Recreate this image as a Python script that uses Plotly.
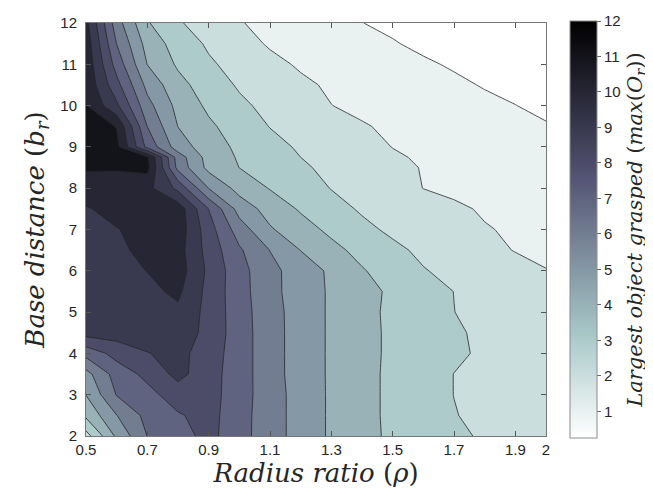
import plotly.graph_objects as go

# ---------------- data ----------------
rho = [0.5, 0.6, 0.7, 0.8, 0.9, 1.0, 1.1, 1.2, 1.3, 1.4, 1.5, 1.6, 1.7, 1.8, 1.9, 2.0]
base_dist = [2.0, 2.5, 3.0, 3.5, 4.0, 4.5, 5.0, 5.5, 6.0, 6.5, 7.0,
             7.5, 8.0, 8.5, 8.75, 9.0, 9.5, 10.0, 10.5, 11.0, 11.5, 12.0]

# largest object grasped, rows = base distance (ascending), cols = radius ratio
max_obj = [
    [2.60, 5.20, 7.02, 7.61, 8.30, 7.36, 6.45, 5.60, 4.86, 4.29, 3.83, 3.52, 3.19, 2.88, 2.65, 2.45],  # 2.0
    [4.21, 5.98, 7.31, 7.90, 8.35, 7.38, 6.45, 5.60, 4.86, 4.29, 3.80, 3.40, 3.04, 2.78, 2.58, 2.40],  # 2.5
    [5.02, 7.05, 7.68, 8.50, 8.40, 7.44, 6.45, 5.60, 4.86, 4.29, 3.80, 3.40, 2.99, 2.75, 2.55, 2.35],  # 3.0
    [5.65, 7.43, 8.27, 9.30, 8.41, 7.47, 6.40, 5.56, 4.86, 4.29, 3.80, 3.40, 2.99, 2.75, 2.55, 2.35],  # 3.5
    [7.33, 8.36, 8.96, 9.30, 8.52, 7.47, 6.40, 5.56, 4.86, 4.29, 3.83, 3.50, 3.17, 2.85, 2.60, 2.35],  # 4.0
    [9.40, 9.45, 9.50, 9.60, 8.69, 7.47, 6.40, 5.56, 4.86, 4.29, 3.83, 3.48, 3.14, 2.80, 2.55, 2.30],  # 4.5
    [9.40, 9.50, 9.60, 9.80, 8.69, 7.44, 6.38, 5.56, 4.86, 4.29, 3.80, 3.40, 3.01, 2.70, 2.45, 2.25],  # 5.0
    [9.50, 9.60, 9.75, 10.20, 8.69, 7.40, 6.30, 5.52, 4.87, 4.33, 3.83, 3.42, 2.99, 2.66, 2.43, 2.20],  # 5.5
    [9.60, 9.70, 10.02, 10.50, 8.79, 7.36, 6.29, 5.52, 4.83, 4.08, 3.55, 3.05, 2.77, 2.51, 2.26, 2.01],  # 6.0
    [9.75, 9.85, 10.20, 10.40, 8.62, 7.14, 5.98, 4.98, 4.28, 3.70, 3.20, 2.82, 2.52, 2.21, 1.97, 1.93],  # 6.5
    [9.80, 9.95, 10.40, 10.60, 8.44, 6.50, 5.11, 4.40, 3.78, 3.22, 2.83, 2.56, 2.28, 2.03, 1.94, 1.85],  # 7.0
    [9.90, 10.40, 10.50, 10.60, 7.98, 5.60, 4.59, 3.89, 3.33, 2.89, 2.62, 2.35, 2.08, 1.95, 1.85, 1.75],  # 7.5
    [10.60, 10.50, 10.30, 8.75, 5.98, 4.64, 3.95, 3.45, 2.97, 2.65, 2.32, 1.99, 1.90, 1.82, 1.74, 1.65],  # 8.0
    [11.10, 11.10, 11.30, 6.67, 4.71, 3.99, 3.57, 3.13, 2.79, 2.50, 2.21, 1.96, 1.83, 1.71, 1.58, 1.45],  # 8.5
    [11.90, 11.60, 11.15, 6.50, 4.60, 3.90, 3.44, 3.00, 2.69, 2.39, 2.10, 1.90, 1.76, 1.62, 1.49, 1.35],  # 8.75
    [11.80, 11.30, 7.71, 5.50, 4.46, 3.80, 3.30, 2.88, 2.58, 2.27, 1.985, 1.84, 1.69, 1.54, 1.40, 1.25],  # 9.0
    [11.60, 10.95, 6.98, 4.98, 4.17, 3.53, 2.97, 2.67, 2.36, 2.06, 1.87, 1.70, 1.54, 1.38, 1.21, 1.05],  # 9.5
    [11.05, 9.20, 6.33, 4.70, 3.81, 3.19, 2.74, 2.37, 2.01, 1.83, 1.67, 1.50, 1.33, 1.17, 1.01, 0.85],  # 10.0
    [10.80, 8.33, 5.70, 4.32, 3.50, 2.89, 2.52, 2.15, 1.89, 1.70, 1.51, 1.33, 1.14, 0.95, 0.82, 0.70],  # 10.5
    [10.70, 7.60, 4.98, 3.86, 3.14, 2.65, 2.22, 1.90, 1.70, 1.50, 1.30, 1.10, 0.92, 0.80, 0.68, 0.56],  # 11.0
    [10.60, 6.98, 4.62, 3.56, 2.86, 2.32, 1.91, 1.70, 1.48, 1.27, 1.05, 0.85, 0.72, 0.60, 0.50, 0.40],  # 11.5
    [10.30, 6.44, 4.09, 3.10, 2.55, 2.05, 1.77, 1.51, 1.26, 1.01, 0.85, 0.72, 0.60, 0.48, 0.37, 0.25],  # 12.0
]

x_tickvals = [0.5, 0.7, 0.9, 1.1, 1.3, 1.5, 1.7, 1.9, 2.0]
x_ticktext = ["0.5", "0.7", "0.9", "1.1", "1.3", "1.5", "1.7", "1.9", "2"]
y_tickvals = [2, 3, 4, 5, 6, 7, 8, 9, 10, 11, 12]
cbar_tickvals = [1, 2, 3, 4, 5, 6, 7, 8, 9, 10, 11, 12]
contour_levels = [1, 2, 3, 4, 5, 6, 7, 8, 9, 10, 11]
c_min, c_max = 0.25, 12.0

# ---------------- colours (reversed MATLAB "bone") ----------------
def bone(s):
    r = (7 * s + min(max(4 * s - 3, 0), 1)) / 8
    g = (7 * s + min(max(8 * s / 3 - 1, 0), 1)) / 8
    b = (7 * s + min(8 * s / 3, 1)) / 8
    return "rgb(%d,%d,%d)" % (round(r * 255), round(g * 255), round(b * 255))

def bone_r_at(v):
    t = (v - c_min) / (c_max - c_min)
    return bone(1 - min(max(t, 0), 1))

n_steps = 48
cont_scale = [[i / n_steps, bone(1 - i / n_steps)] for i in range(n_steps + 1)]

band_values = [c_min] + contour_levels
n_b = len(band_values) - 1
band_scale = [[k / n_b, bone_r_at(v)] for k, v in enumerate(band_values)]

# ---------------- figure ----------------
fig = go.Figure()

fig.add_trace(go.Contour(
    x=rho, y=base_dist, z=max_obj,
    autocontour=False,
    contours=dict(start=contour_levels[0], end=contour_levels[-1], size=1,
                  coloring="fill", showlines=True),
    colorscale=band_scale,
    showscale=False,
    line=dict(color="#262626", width=0.8, smoothing=0),
    hoverinfo="skip",
))

# continuous colour bar
fig.add_trace(go.Scatter(
    x=[1.0], y=[7.0], mode="markers", hoverinfo="skip", showlegend=False,
    marker=dict(
        size=1, opacity=0, color=[c_min], cmin=c_min, cmax=c_max,
        colorscale=cont_scale, showscale=True,
        colorbar=dict(
            thicknessmode="pixels", thickness=27,
            lenmode="pixels", len=417,
            x=1.0515, xanchor="left", xpad=0,
            y=0.5, yanchor="middle", ypad=0,
            outlinewidth=1, outlinecolor="#8c8c8c",
            tickvals=cbar_tickvals,
            ticks="outside", ticklen=4, tickcolor="#666666",
            tickfont=dict(family="Liberation Sans", size=15, color="#262626"),
            title=dict(
                text="<i>Largest object grasped</i> (<i>max</i>(<i>O</i><sub><i>r</i></sub>))",
                side="right",
                font=dict(family="DejaVu Serif", size=21, color="#262626"),
            ),
        ),
    ),
))

axis_common = dict(
    ticks="inside", ticklen=5, tickcolor="#555555",
    showline=True, linecolor="#777777", linewidth=1, mirror="ticks",
    showgrid=False, zeroline=False, automargin=False,
    tickfont=dict(family="Liberation Sans", size=15, color="#262626"),
)

fig.update_layout(
    width=653, height=490,
    margin=dict(l=78, r=109, t=15, b=62),
    paper_bgcolor="white", plot_bgcolor="white",
    showlegend=False,
    xaxis=dict(
        range=[0.5, 2.0], tickvals=x_tickvals, ticktext=x_ticktext,
        ticklabelstandoff=0,
        title=dict(text="<i>Radius ratio</i> (<i>ρ</i>)", standoff=2,
                   font=dict(family="DejaVu Serif", size=26, color="#262626")),
        **axis_common,
    ),
    yaxis=dict(
        range=[2, 12], tickvals=y_tickvals,
        ticklabelstandoff=5,
        title=dict(text="<i>Base distance</i> (<i>b</i><sub><i>r</i></sub>)", standoff=8,
                   font=dict(family="DejaVu Serif", size=26, color="#262626")),
        **axis_common,
    ),
)

fig.write_html("out.html")
